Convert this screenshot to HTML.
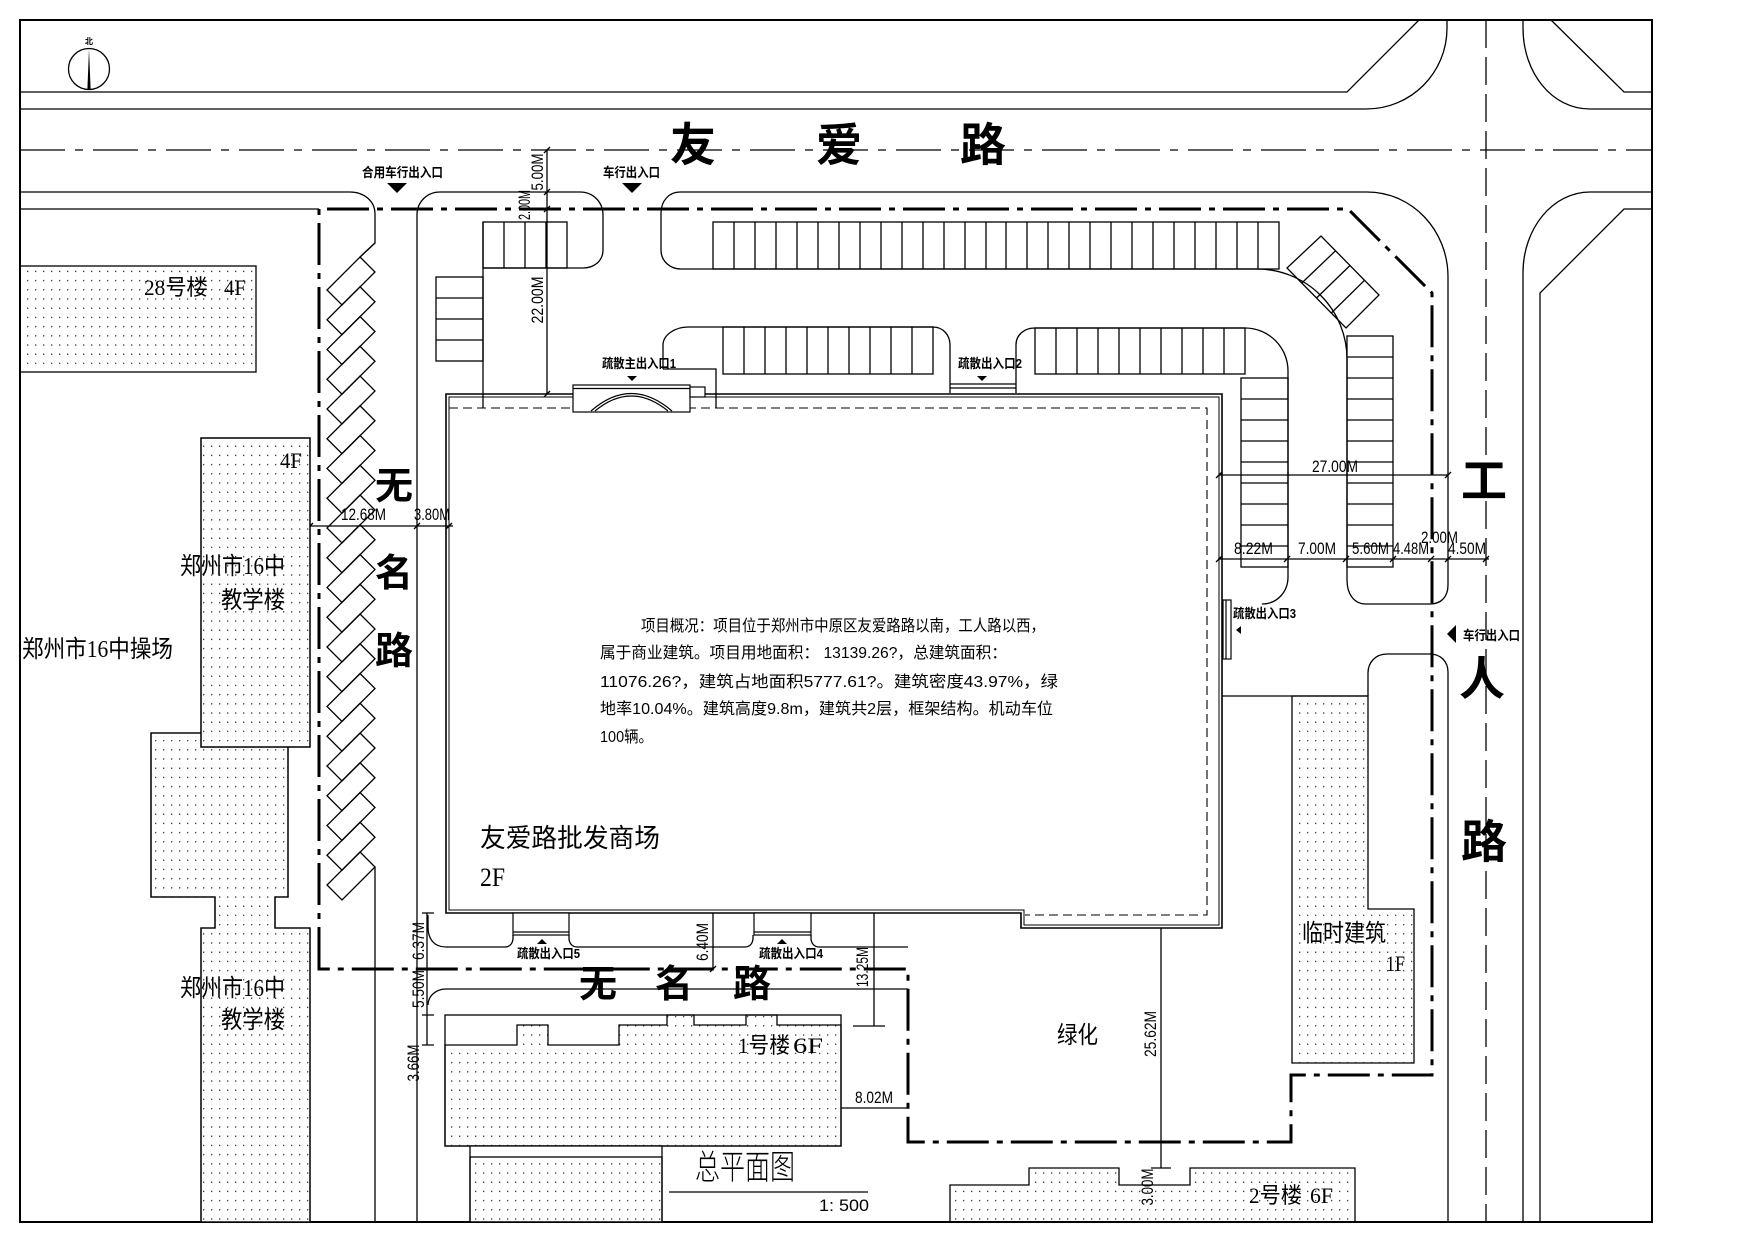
<!DOCTYPE html>
<html><head><meta charset="utf-8"><style>
html,body{margin:0;padding:0;background:#fff;}
svg{display:block;}
.cj{font-family:"Liberation Serif","Noto Sans CJK SC","WenQuanYi Zen Hei",serif;fill:#000;}
.bd{font-family:"Liberation Sans","Noto Sans CJK SC","WenQuanYi Zen Hei",sans-serif;font-weight:bold;fill:#000;}
.dm{font-family:"Liberation Sans",sans-serif;font-size:17px;fill:#000;}
.sm{font-family:"Liberation Sans","Noto Sans CJK SC","WenQuanYi Zen Hei",sans-serif;font-weight:bold;font-size:13px;fill:#000;}
.tx{font-family:"Liberation Sans","Noto Sans CJK SC","WenQuanYi Zen Hei",sans-serif;font-size:16px;fill:#000;}
</style></head><body>
<svg width="1754" height="1241" viewBox="0 0 1754 1241" xmlns="http://www.w3.org/2000/svg">
<defs>
<pattern id="dots" width="8" height="9.2" patternUnits="userSpaceOnUse"><rect x="3" y="4" width="1.3" height="1.3" fill="#333"/></pattern>
<polygon id="ds" points="360,0 375,15 342,48 327,33" fill="none" stroke="#000" stroke-width="1.3"/>
</defs>
<rect width="1754" height="1241" fill="#fff"/>

<!-- frame -->
<rect x="20" y="20" width="1632" height="1202" fill="none" stroke="#000" stroke-width="2"/>

<!-- north arrow -->
<circle cx="89" cy="69" r="20.5" fill="none" stroke="#000" stroke-width="1.3"/>
<polygon points="89,49 90.6,89 87.4,89" fill="#000"/>
<text x="89" y="44" font-size="8" text-anchor="middle" class="bd">北</text>

<g fill="none" stroke="#000" stroke-width="1.3">
<!-- 友爱路 -->
<path d="M20 92 H1347 L1419 20"/>
<path d="M20 109 H1366 C1411 109 1447 73 1447 28 V20"/>
<path d="M1523 20 V28 C1523 73 1552 109 1590 109 H1652"/>
<path d="M1551 20 L1624 92 H1652"/>
<path d="M20 150 H1652" stroke-dasharray="45 10 8 10"/>
<path d="M20 192 H350 C364 192 375 201 375 214 V243 L360 257"/>
<path d="M20 209 H319"/>
<path d="M417 1222 V215 C417 202 427 192 440 192 H580 C593 192 603 202 603 215 V250 C603 261 594 268 583 268 H483"/>
<path d="M1448 585 V277 C1448 230 1412 192 1367 192 H680 C669 192 661 201 661 213 V250 C661 261 670 269 681 269 H1257 A90 90 0 0 1 1347 359 V580 C1347 594 1354 604 1366 604 H1430 C1441 604 1448 597 1448 585"/>
<path d="M375 867 V1222"/>
<path d="M483 222 V408"/>
<!-- inner island -->
<path d="M663 369 V345 C663 335 675 327 688 327 H933 C943 327 950 335 950 345 V393"/>
<path d="M663 369 H716 V408"/>
<path d="M1016 393 V345 C1016 335 1024 328 1035 328 H1245 A43 43 0 0 1 1288 371 V577 C1288 592 1277 604 1262 604"/>
<!-- 工人路 -->
<path d="M1368 696 V673 C1368 662 1376 654 1387 654 H1430 C1441 654 1448 662 1448 672 V1222"/>
<path d="M1652 192 H1590 C1553 192 1523 228 1523 273 V1222"/>
<path d="M1652 209 H1624 L1540 293 V1222"/>
<path d="M1486 20 V1222" stroke-dasharray="28 9"/>
<path d="M1222 696 H1368"/>
<!-- bottom road -->
<path d="M428 915 V927 C428 939 434 947 446 947 H505 C510 947 513 943 513 938 V935"/>
<path d="M569 935 V938 C569 943 572 947 577 947 H745 C750 947 753 943 753 938 V935"/>
<path d="M811 935 V938 C811 943 814 947 819 947 H908"/>
<path d="M908 989 H446 C436 989 428 996 428 1005"/>

<!-- parking: top row -->
<rect x="713" y="222" width="566" height="47"/>
<path d="M734 222V269M755 222V269M776 222V269M797 222V269M818 222V269M839 222V269M860 222V269M881 222V269M902 222V269M923 222V269M944 222V269M965 222V269M986 222V269M1006 222V269M1027 222V269M1048 222V269M1069 222V269M1090 222V269M1111 222V269M1132 222V269M1153 222V269M1174 222V269M1195 222V269M1216 222V269M1237 222V269M1258 222V269"/>
<!-- west island stalls -->
<rect x="483" y="222" width="84" height="46"/>
<path d="M504 222V268M525 222V268M546 222V268"/>
<rect x="436" y="277" width="47" height="84"/>
<path d="M436 298H483M436 319H483M436 340H483"/>
<!-- inner rows -->
<rect x="723" y="327" width="210" height="47"/>
<path d="M744 327V374M765 327V374M786 327V374M807 327V374M828 327V374M849 327V374M870 327V374M891 327V374M912 327V374"/>
<rect x="1035" y="328" width="210" height="46"/>
<path d="M1056 328V374M1077 328V374M1098 328V374M1119 328V374M1140 328V374M1161 328V374M1182 328V374M1203 328V374M1224 328V374"/>
<rect x="1241" y="378" width="47" height="189"/>
<path d="M1241 399H1288M1241 420H1288M1241 441H1288M1241 462H1288M1241 483H1288M1241 504H1288M1241 525H1288M1241 546H1288"/>
<rect x="1347" y="336" width="46" height="231"/>
<path d="M1347 357H1393M1347 378H1393M1347 399H1393M1347 420H1393M1347 441H1393M1347 462H1393M1347 483H1393M1347 504H1393M1347 525H1393M1347 546H1393"/>
<!-- corner diagonal stalls -->
<polygon points="1287,268 1321,236 1379,295 1346,328"/>
<path d="M1335.5 250.8 L1301.8 283 M1350 265.5 L1316.5 298 M1364.5 280.3 L1331.3 313"/>

<!-- dims -->
<path d="M547 150 V394 M544 153 L550 147 M544 195 L550 189 M544 212 L550 206 M544 397 L550 391"/>
<path d="M310 526 H453 M307 529 L313 523 M414 529 L420 523 M446 529 L452 523"/>
<path d="M1219 475 H1448 M1216 478 L1222 472 M1445 478 L1451 472"/>
<path d="M1218 559 H1489 M1216 562 L1222 556 M1284 562 L1290 556 M1343 562 L1349 556 M1390 562 L1396 556 M1428 562 L1434 556 M1445 562 L1451 556 M1483 562 L1489 556"/>
<path d="M427 913 V1045 M422 913 H434 M422 969 H434 M422 1015 H434 M422 1045 H434"/>
<path d="M713 913 V969 M710 972 L716 966"/>
<path d="M874 913 V1026 M853 1026 H885"/>
<path d="M841 1108 H908"/>
<path d="M1161 928 V1168 M1151 1168 H1171"/>
</g>

<!-- west diagonal parking -->
<g>
<path d="M375 243 L360 257" fill="none" stroke="#000" stroke-width="1.3"/>
<use href="#ds" y="257"/><use href="#ds" y="286.75"/><use href="#ds" y="316.5"/><use href="#ds" y="346.25"/>
<use href="#ds" y="376"/><use href="#ds" y="405.75"/><use href="#ds" y="435.5"/><use href="#ds" y="465.25"/>
<use href="#ds" y="495"/><use href="#ds" y="524.75"/><use href="#ds" y="554.5"/><use href="#ds" y="584.25"/>
<use href="#ds" y="614"/><use href="#ds" y="643.75"/><use href="#ds" y="673.5"/><use href="#ds" y="703.25"/>
<use href="#ds" y="733"/><use href="#ds" y="762.75"/><use href="#ds" y="792.5"/><use href="#ds" y="822.25"/>
<use href="#ds" y="852"/>
</g>

<!-- dotted buildings -->
<g stroke="#000" stroke-width="1.3">
<rect x="20" y="266" width="236" height="106" fill="url(#dots)"/>
<path d="M151 733 H288 V897 H275 V928 H310 V1222 H201 V928 H215 V897 H151 Z" fill="#fff"/>
<path d="M151 733 H288 V897 H275 V928 H310 V1222 H201 V928 H215 V897 H151 Z" fill="url(#dots)"/>
<rect x="201" y="438" width="109" height="309" fill="#fff"/>
<rect x="201" y="438" width="109" height="309" fill="url(#dots)"/>
<rect x="445" y="1015" width="396" height="131" fill="#fff"/>
<path d="M445 1146 V1045 H517 V1025 H548 V1045 H619 V1025 H667 V1015 H694 V1025 H746 V1015 H777 V1025 H841 V1146 Z" fill="url(#dots)"/>
<rect x="470" y="1146" width="192" height="76" fill="#fff"/>
<rect x="470" y="1157" width="192" height="65" fill="url(#dots)"/>
<path d="M950 1222 V1185 H1029 V1168 H1119 V1185 H1190 V1168 H1355 V1222" fill="url(#dots)"/>
<path d="M1292 696 H1368 V909 H1414 V1063 H1292 Z" fill="url(#dots)"/>
</g>

<!-- main building -->
<g fill="none" stroke="#000">
<path d="M446 394 H1222 V928 H1021 V913 H446 Z" stroke-width="1.6"/>
<path d="M449 397 H1219 V925 H1024 V910 H449 Z" stroke-width="1"/>
<path d="M449 408 H1207 V915 H1025" stroke-width="1.1" stroke-dasharray="9 5"/>
</g>

<!-- entrances -->
<g stroke="#000" stroke-width="1.2">
<rect x="573" y="385" width="117" height="27" fill="#fff"/>
<path d="M573 388.5 H690" fill="none"/>
<path d="M591 411 Q631 376 672 411 M595 411 Q631 381 668 411" fill="none"/>
<rect x="690" y="387" width="15" height="10" fill="#fff"/>
<path d="M950 384 H1016 M950 388 H1016" fill="none"/>
<rect x="1223" y="600" width="8" height="59" fill="#fff"/>
<path d="M1226 600 V659" fill="none"/>
<rect x="513" y="913" width="56" height="22" fill="#fff"/>
<path d="M513 932 H569" fill="none"/>
<rect x="754" y="913" width="57" height="22" fill="#fff"/>
<path d="M754 932 H811" fill="none"/>
</g>

<!-- site boundary -->
<path d="M319 969 V209 H1348 L1432 293 V1075 H1291 V1142 H908 V969 Z" fill="none" stroke="#000" stroke-width="3" stroke-dasharray="42 8 6 8"/>

<!-- arrows -->
<g fill="#000">
<polygon points="387,183 407,183 397,193"/>
<polygon points="622,183 642,183 632,193"/>
<polygon points="627,376 637,376 632,381"/>
<polygon points="977,376 987,376 982,381"/>
<polygon points="537,944 547,944 542,939"/>
<polygon points="777,944 787,944 782,939"/>
<polygon points="1241,626 1241,634 1236,630"/>
<polygon points="1456,625 1456,643 1447,634"/>
</g>

<!-- road names -->
<g class="bd" font-size="46" text-anchor="middle">
<text x="693" y="161">友</text><text x="839" y="161">爱</text><text x="983" y="161">路</text>
<text x="1484" y="497">工</text><text x="1482" y="695">人</text><text x="1484" y="858">路</text>
</g>
<g class="bd" font-size="38" text-anchor="middle">
<text x="394" y="499">无</text><text x="394" y="586">名</text><text x="394" y="664">路</text>
<text x="598" y="997">无</text><text x="674" y="997">名</text><text x="752" y="997">路</text>
</g>

<!-- small bold labels -->
<g class="sm">
<text x="362" y="177" textLength="81" lengthAdjust="spacingAndGlyphs">合用车行出入口</text>
<text x="603" y="177" textLength="57" lengthAdjust="spacingAndGlyphs">车行出入口</text>
<text x="602" y="368" textLength="74" lengthAdjust="spacingAndGlyphs">疏散主出入口1</text>
<text x="958" y="368" textLength="64" lengthAdjust="spacingAndGlyphs">疏散出入口2</text>
<text x="1233" y="618" textLength="63" lengthAdjust="spacingAndGlyphs">疏散出入口3</text>
<text x="1463" y="640" textLength="57" lengthAdjust="spacingAndGlyphs">车行出入口</text>
<text x="517" y="958" textLength="63" lengthAdjust="spacingAndGlyphs">疏散出入口5</text>
<text x="759" y="958" textLength="64" lengthAdjust="spacingAndGlyphs">疏散出入口4</text>
</g>

<!-- dimension labels -->
<g class="dm" text-anchor="middle">
<text x="363.5" y="520" textLength="45" lengthAdjust="spacingAndGlyphs">12.68M</text>
<text x="432" y="520" textLength="36" lengthAdjust="spacingAndGlyphs">3.80M</text>
<text x="1335" y="472" textLength="46" lengthAdjust="spacingAndGlyphs">27.00M</text>
<text x="1253.5" y="554" textLength="39" lengthAdjust="spacingAndGlyphs">8.22M</text>
<text x="1317" y="554" textLength="38" lengthAdjust="spacingAndGlyphs">7.00M</text>
<text x="1370.5" y="554" textLength="37" lengthAdjust="spacingAndGlyphs">5.60M</text>
<text x="1411" y="554" textLength="36" lengthAdjust="spacingAndGlyphs">4.48M</text>
<text x="1467" y="554" textLength="38" lengthAdjust="spacingAndGlyphs">4.50M</text>
<text x="1439.5" y="543" textLength="37" lengthAdjust="spacingAndGlyphs">2.00M</text>
<text x="874" y="1103" textLength="38" lengthAdjust="spacingAndGlyphs">8.02M</text>
<text transform="translate(537 172) rotate(-90)" y="6" textLength="37" lengthAdjust="spacingAndGlyphs">5.00M</text>
<text transform="translate(524 205) rotate(-90)" y="6" textLength="30" lengthAdjust="spacingAndGlyphs">2.00M</text>
<text transform="translate(537 300) rotate(-90)" y="6" textLength="47" lengthAdjust="spacingAndGlyphs">22.00M</text>
<text transform="translate(418 941) rotate(-90)" y="6" textLength="38" lengthAdjust="spacingAndGlyphs">6.37M</text>
<text transform="translate(418 989) rotate(-90)" y="6" textLength="38" lengthAdjust="spacingAndGlyphs">5.50M</text>
<text transform="translate(413 1063) rotate(-90)" y="6" textLength="37" lengthAdjust="spacingAndGlyphs">3.66M</text>
<text transform="translate(702 942) rotate(-90)" y="6" textLength="38" lengthAdjust="spacingAndGlyphs">6.40M</text>
<text transform="translate(862 967) rotate(-90)" y="6" textLength="40" lengthAdjust="spacingAndGlyphs">13.25M</text>
<text transform="translate(1150 1034) rotate(-90)" y="6" textLength="46" lengthAdjust="spacingAndGlyphs">25.62M</text>
<text transform="translate(1147 1187) rotate(-90)" y="6" textLength="37" lengthAdjust="spacingAndGlyphs">3.00M</text>
</g>

<!-- building labels -->
<g class="cj">
<text x="22" y="657" font-size="24" textLength="151" lengthAdjust="spacingAndGlyphs">郑州市16中操场</text>
<text x="180" y="574" font-size="24" textLength="105" lengthAdjust="spacingAndGlyphs">郑州市16中</text>
<text x="221" y="608" font-size="24" textLength="64" lengthAdjust="spacingAndGlyphs">教学楼</text>
<text x="180" y="996" font-size="24" textLength="105" lengthAdjust="spacingAndGlyphs">郑州市16中</text>
<text x="221" y="1028" font-size="24" textLength="64" lengthAdjust="spacingAndGlyphs">教学楼</text>
<text x="144" y="295" font-size="22" textLength="64" lengthAdjust="spacingAndGlyphs">28号楼</text>
<text x="224" y="295" font-size="22" textLength="22" lengthAdjust="spacingAndGlyphs">4F</text>
<text x="280" y="468" font-size="22" textLength="22" lengthAdjust="spacingAndGlyphs">4F</text>
<text x="1302" y="941" font-size="24" textLength="84" lengthAdjust="spacingAndGlyphs">临时建筑</text>
<text x="1386" y="971" font-size="22" textLength="19" lengthAdjust="spacingAndGlyphs">1F</text>
<text x="1057" y="1043" font-size="24" textLength="41" lengthAdjust="spacingAndGlyphs">绿化</text>
<text x="480" y="847" font-size="26" textLength="180" lengthAdjust="spacingAndGlyphs">友爱路批发商场</text>
<text x="480" y="886" font-size="26" textLength="25" lengthAdjust="spacingAndGlyphs">2F</text>
<text x="738" y="1053" font-size="22" textLength="52" lengthAdjust="spacingAndGlyphs">1号楼</text>
<text x="793" y="1053" font-size="22" textLength="30" lengthAdjust="spacingAndGlyphs">6F</text>
<text x="1249" y="1203" font-size="22" textLength="53" lengthAdjust="spacingAndGlyphs">2号楼</text>
<text x="1310" y="1203" font-size="22" textLength="23" lengthAdjust="spacingAndGlyphs">6F</text>
<text x="695" y="1179" font-size="34" textLength="100" lengthAdjust="spacingAndGlyphs" style="font-family:'Noto Sans CJK SC','WenQuanYi Zen Hei',sans-serif;font-weight:300">总平面图</text>
<text x="819" y="1211" font-size="17" textLength="50" lengthAdjust="spacingAndGlyphs" style="font-family:'Liberation Sans',sans-serif">1: 500</text>
</g>
<path d="M669 1192 H868" stroke="#000" stroke-width="1.3"/>

<!-- project description -->
<g class="tx">
<text x="641" y="631" textLength="404" lengthAdjust="spacingAndGlyphs">项目概况：项目位于郑州市中原区友爱路路以南，工人路以西，</text>
<text x="600" y="658" textLength="407" lengthAdjust="spacingAndGlyphs">属于商业建筑。项目用地面积： 13139.26?，总建筑面积：</text>
<text x="600" y="687" textLength="458" lengthAdjust="spacingAndGlyphs">11076.26?，建筑占地面积5777.61?。建筑密度43.97%，绿</text>
<text x="600" y="714" textLength="453" lengthAdjust="spacingAndGlyphs">地率10.04%。建筑高度9.8m，建筑共2层，框架结构。机动车位</text>
<text x="600" y="742" textLength="53" lengthAdjust="spacingAndGlyphs">100辆。</text>
</g>
</svg>
</body></html>
